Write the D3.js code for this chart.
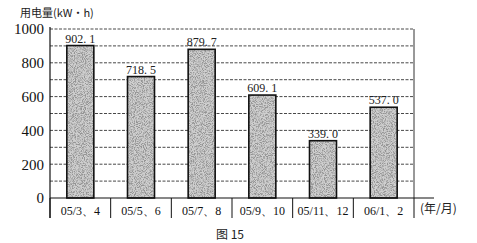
<!DOCTYPE html>
<html>
<head>
<meta charset="utf-8">
<script src="https://cdn.jsdelivr.net/npm/d3@7"></script>
<style>
  body { margin: 0; background: #fff; }
  svg { display: block; }
  .num { font-family: "Liberation Serif", "DejaVu Serif", serif; }
  .cjk { font-family: "Noto Sans CJK SC", sans-serif; }
</style>
</head>
<body>
<div id="chart"></div>
<script>
// data
const categories = ["05/3、4", "05/5、6", "05/7、8", "05/9、10", "05/11、12", "06/1、2"];
const values = [902.1, 718.5, 879.7, 609.1, 339.0, 537.0];
const valueLabels = ["902. 1", "718. 5", "879. 7", "609. 1", "339. 0", "537. 0"];
const yTicks = [0, 200, 400, 600, 800, 1000];
const gridLines = [100, 200, 300, 400, 500, 600, 700, 800, 900, 1000];

const W = 477, H = 243;

const svg = d3.select("#chart").append("svg")
  .attr("width", W).attr("height", H);

// grainy texture for bars
const defs = svg.append("defs");
const f = defs.append("filter").attr("id", "grain")
  .attr("x", 0).attr("y", 0).attr("width", 1).attr("height", 1);
f.append("feTurbulence").attr("type", "fractalNoise")
  .attr("baseFrequency", 1.1).attr("numOctaves", 3).attr("seed", 7).attr("result", "noise");
f.append("feColorMatrix").attr("in", "noise").attr("type", "matrix")
  .attr("values", "0 0 0 0 0.3  0 0 0 0 0.3  0 0 0 0 0.3  0 0 0 -3.5 2.1")
  .attr("result", "dots");
f.append("feComposite").attr("in", "dots").attr("in2", "SourceGraphic").attr("operator", "in").attr("result", "d2");
f.append("feMerge").selectAll("feMergeNode").data(["SourceGraphic", "d2"])
  .enter().append("feMergeNode").attr("in", d => d);

const x = d3.scaleBand().domain(categories).range([50, 414]).paddingInner(0).paddingOuter(0);
const y = d3.scaleLinear().domain([0, 1000]).range([198, 29]);
const barW = 27;

// dashed gridlines
svg.append("g").selectAll("line").data(gridLines).enter().append("line")
  .attr("x1", 50).attr("x2", 414)
  .attr("y1", d => y(d)).attr("y2", d => y(d))
  .attr("stroke", "#333").attr("stroke-width", 0.9)
  .attr("stroke-dasharray", "3,1.5");

// right border
svg.append("line").attr("x1", 414).attr("x2", 414).attr("y1", y(1000)).attr("y2", y(0))
  .attr("stroke", "#333").attr("stroke-width", 1);

// bars
const bx = (d, i) => x(categories[i]) + x.bandwidth() / 2 - barW / 2;
svg.append("g").selectAll("rect").data(values).enter().append("rect")
  .attr("x", bx).attr("y", d => y(d))
  .attr("width", barW).attr("height", d => y(0) - y(d))
  .attr("fill", "#cfcfcf")
  .attr("filter", "url(#grain)");
svg.append("g").selectAll("rect").data(values).enter().append("rect")
  .attr("x", bx).attr("y", d => y(d))
  .attr("width", barW).attr("height", d => y(0) - y(d))
  .attr("fill", "none")
  .attr("stroke", "#111").attr("stroke-width", 1.6);

// value labels
svg.append("g").selectAll("text").data(values).enter().append("text")
  .attr("class", "num")
  .attr("x", (d, i) => x(categories[i]) + x.bandwidth() / 2)
  .attr("y", d => y(d) - 3)
  .attr("text-anchor", "middle")
  .attr("font-size", 12).attr("fill", "#222")
  .text((d, i) => valueLabels[i]);

// y axis
const yAxis = svg.append("g").attr("transform", "translate(50,0)")
  .call(d3.axisLeft(y).tickValues(yTicks).tickFormat(d3.format("d")).tickSize(0).tickPadding(6));
yAxis.attr("font-family", null);
yAxis.select(".domain").remove();
yAxis.selectAll("text").attr("class", "num").attr("font-size", 15).attr("fill", "#111");
svg.append("line").attr("x1", 50).attr("x2", 50).attr("y1", 27).attr("y2", 218)
  .attr("stroke", "#111").attr("stroke-width", 1.2);

// baseline
svg.append("line").attr("x1", 50).attr("x2", 434).attr("y1", y(0)).attr("y2", y(0))
  .attr("stroke", "#111").attr("stroke-width", 1.2);

// x axis: category labels and dividers
const xAxis = svg.append("g").attr("transform", "translate(0," + y(0) + ")")
  .call(d3.axisBottom(x).tickSize(0).tickPadding(8));
xAxis.attr("font-family", null);
xAxis.select(".domain").remove();
xAxis.selectAll("text").attr("class", "num").attr("font-size", 12).attr("fill", "#111");
const dividers = categories.map(c => x(c)).concat([x(categories[categories.length - 1]) + x.bandwidth()]);
svg.append("g").selectAll("line").data(dividers).enter().append("line")
  .attr("x1", d => d).attr("x2", d => d)
  .attr("y1", y(0)).attr("y2", 218)
  .attr("stroke", "#111").attr("stroke-width", 1);

// titles
svg.append("text").attr("class", "cjk").attr("x", 20).attr("y", 17)
  .attr("font-size", 11).attr("fill", "#222")
  .text("用电量(kW·h)");
svg.append("text").attr("class", "cjk").attr("x", 420).attr("y", 213)
  .attr("font-size", 12).attr("fill", "#222")
  .text("(年/月)");
svg.append("text").attr("class", "cjk").attr("x", 230).attr("y", 239).attr("text-anchor", "middle")
  .attr("font-size", 12).attr("fill", "#222")
  .text("图 15");
</script>
</body>
</html>
